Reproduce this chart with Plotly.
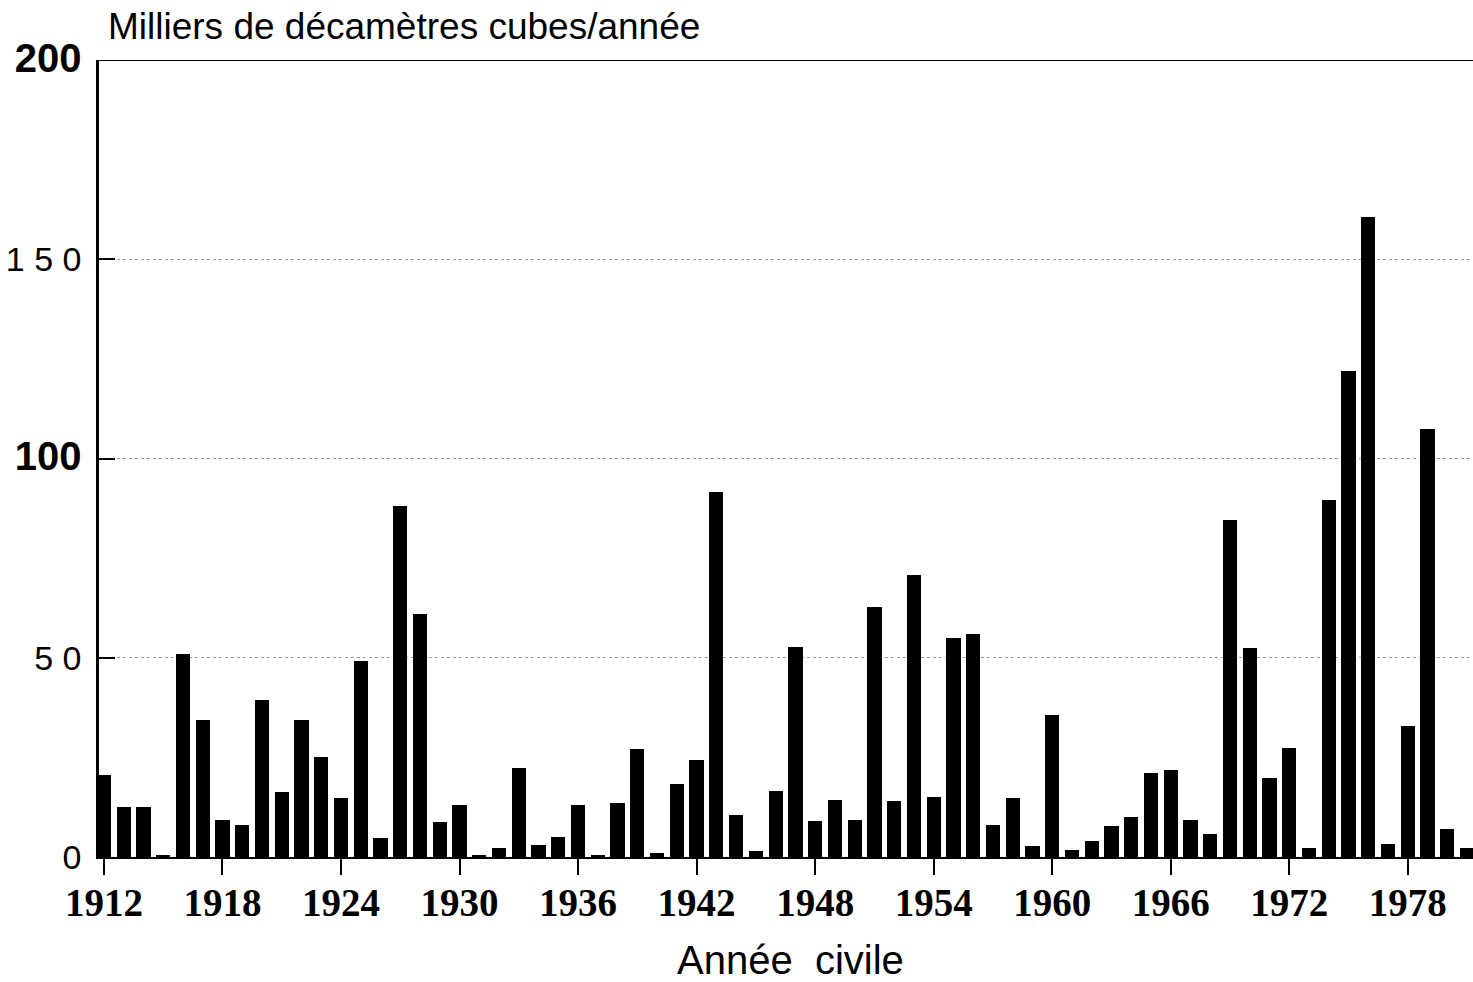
import plotly.graph_objects as go

years = list(range(1912, 1982))
values = [
    20.6, 12.5, 12.5, 0.3, 51.0, 34.4, 9.3, 8.0, 39.4, 16.3,
    34.4, 25.0, 14.8, 49.2, 4.8, 88.0, 61.0, 8.8, 13.0, 0.5,
    2.3, 22.3, 3.0, 5.0, 13.0, 0.3, 13.5, 27.0, 1.0, 18.3,
    24.3, 91.6, 10.5, 1.5, 16.6, 52.7, 9.0, 14.3, 9.3, 62.7,
    14.0, 70.8, 15.0, 55.0, 56.0, 8.0, 14.8, 2.8, 35.6, 1.8,
    4.0, 7.8, 10.0, 21.0, 21.8, 9.3, 5.8, 84.6, 52.4, 19.8,
    27.4, 2.3, 89.6, 122.0, 160.6, 3.3, 32.9, 107.4, 7.0, 2.3,
]
x_ticks = list(range(1912, 1979, 6))
y_ticks = [0, 50, 100, 150, 200]
y_ticktext = [
    "0",
    "5 0",
    "<span style='font-size:40px'><b>100</b></span>",
    "1 5 0",
    "<span style='font-size:40px'><b>200</b></span>",
]

fig = go.Figure(go.Bar(
    x=years, y=values, width=0.72,
    marker=dict(color="black", line=dict(width=0)),
))

fig.update_layout(
    width=1473, height=982,
    margin=dict(l=99, r=0, t=60, b=125, autoexpand=False),
    plot_bgcolor="white", paper_bgcolor="white",
    showlegend=False,
    bargap=0,
    title=dict(
        text="Milliers de décamètres cubes/année",
        x=108 / 1473, xanchor="left", xref="container",
        y=1 - 26 / 982, yanchor="middle", yref="container",
        font=dict(family="Liberation Sans", size=37, color="black"),
    ),
)

fig.update_xaxes(
    range=[1911.75, 1981.3],
    tickmode="array", tickvals=x_ticks, ticktext=[str(t) for t in x_ticks],
    ticks="outside", ticklen=16, tickwidth=1.5, tickcolor="black",
    tickfont=dict(family="Liberation Serif", size=39, color="black", weight="bold"),
    ticklabelstandoff=-6,
    showline=True, linecolor="black", linewidth=1.5, mirror=False,
    showgrid=False, zeroline=False, automargin=False,
)

fig.update_yaxes(
    range=[0, 200],
    tickmode="array", tickvals=y_ticks, ticktext=y_ticktext,
    ticks="inside", ticklen=16, tickwidth=1.5, tickcolor="black",
    tickfont=dict(family="Liberation Sans", size=34, color="black"),
    ticklabelstandoff=8,
    showline=True, linecolor="black", linewidth=2.5,
    showgrid=True, gridcolor="#999999", gridwidth=1, griddash="dot",
    zeroline=False, automargin=False,
)

# solid top border line at 200
fig.add_shape(type="line", xref="paper", yref="y", x0=0, x1=1, y0=200, y1=200,
              line=dict(color="black", width=2))

fig.add_annotation(
    text="Année  civile", xref="paper", yref="paper",
    x=(790 - 99) / 1374, y=0, yshift=-103, yanchor="middle",
    showarrow=False,
    font=dict(family="Liberation Sans", size=40, color="black"),
)

fig.write_html(
    "out.html",
    config={"displayModeBar": False},
    post_script="document.body.style.margin='0';document.body.style.overflow='hidden';",
)
